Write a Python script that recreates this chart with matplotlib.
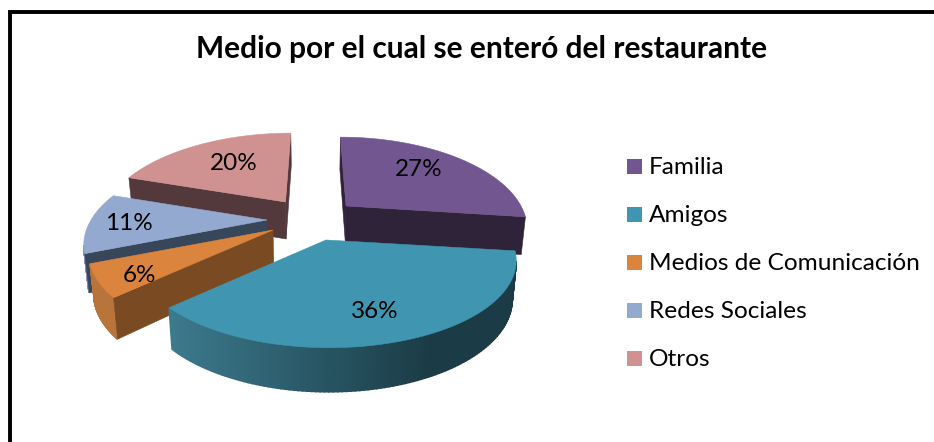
import matplotlib
matplotlib.use("Agg")
import matplotlib.pyplot as plt
import matplotlib.patches as mpatches
import numpy as np

plt.rcParams["font.family"] = ["Lato", "DejaVu Sans"]

TITLE = "Medio por el cual se enteró del restaurante"
CATEGORIES = ["Familia", "Amigos", "Medios de Comunicación", "Redes Sociales", "Otros"]
VALUES = [27, 36, 6, 11, 20]
LABELS = ["27%", "36%", "6%", "11%", "20%"]

COLORS = ["#725690", "#4096B0", "#DA843E", "#93A9CF", "#CF9290"]
WALL_COLORS = ["#2E2339", "#1B3C47", "#7A4B22", "#38465A", "#53393B"]
RIM_COLORS = ["#4A3860", "#1B3C47", "#B8743A", "#7F93B4", "#A87A78"]

# where each slice's apex ended up (pixels), the slices are pulled out by hand
APEX = [(346, 206), (326, 240), (273, 230), (267, 220), (285.5, 202)]
RADIUS_X = [175, 185, 177, 176, 178]
LABEL_OFFSET = [(73, -37), (49, 70), (-134, 44), (-138, 2), (-52, -40)]
DRAW_ORDER = [4, 0, 3, 2, 1]

X0 = 315    # vanishing axis
RY = 84     # ellipse height at apex depth
PERSP = 0.22
HEIGHT = 37
PINCH = 0.98


def persp(theta):
    return 1 / (1 + PERSP * np.cos(theta))


def top_point(apex, rx, theta):
    p = persp(theta)
    return np.array([X0 + (apex[0] - X0 + rx * np.sin(theta)) * p,
                     apex[1] - RY * np.cos(theta) * p])


def bottom_point(pt, p=1.0):
    return np.array([X0 + (pt[0] - X0) * PINCH, pt[1] + HEIGHT * p ** 0.7])


def faces_viewer(a, b, inside):
    # wall below edge a-b shows when the slice interior lies on the other side of "down"
    edge = b - a
    side = edge[0] * (inside[1] - a[1]) - edge[1] * (inside[0] - a[0])
    return edge[0] * side < 0


def lerp_color(c1, c2, t):
    a = np.array(matplotlib.colors.to_rgb(c1))
    b = np.array(matplotlib.colors.to_rgb(c2))
    return tuple(a + (b - a) * t)


fig = plt.figure(figsize=(9.34, 4.42), dpi=100)
ax = fig.add_axes([0, 0, 1, 1])
ax.set_xlim(0, 934)
ax.set_ylim(442, 0)
ax.axis("off")

# chart frame: only top and left sides are in the crop
ax.plot([9.8, 9.8, 934], [442, 12.3, 12.3], color="black", lw=2.8,
        solid_joinstyle="miter", zorder=0)

edges = np.radians(np.concatenate([[0], np.cumsum(VALUES)]) / np.sum(VALUES) * 360)

z = 1
for i in DRAW_ORDER:
    t0, t1 = edges[i], edges[i + 1]
    apex = np.array(APEX[i], dtype=float)
    rx = RADIUS_X[i]
    thetas = np.linspace(t0, t1, 120)
    rim = np.array([top_point(apex, rx, t) for t in thetas])
    inside = top_point(apex, rx, (t0 + t1) / 2) * 0.5 + apex * 0.5

    # rim wall, small quads so Amigos can carry its gradient
    for k in range(len(thetas) - 1):
        a, b = rim[k], rim[k + 1]
        if not faces_viewer(a, b, inside):
            continue
        c = bottom_point(b, persp(thetas[k + 1]))
        d = bottom_point(a, persp(thetas[k]))
        if i == 1:
            frac = np.clip((a[0] - 170) / 260, 0, 1)
            color = lerp_color("#3C7A8D", "#1B3C47", frac)
        else:
            color = RIM_COLORS[i]
        ax.add_patch(mpatches.Polygon([a, b, c, d], fc=color, ec=color, lw=1.2, zorder=z))
    z += 1

    # the two cut walls
    apex_bot = bottom_point(apex)
    for t in (t0, t1):
        rp = top_point(apex, rx, t)
        if not faces_viewer(apex, rp, inside):
            continue
        ax.add_patch(mpatches.Polygon([apex, rp, bottom_point(rp, persp(t)), apex_bot],
                                      fc=WALL_COLORS[i], ec=WALL_COLORS[i], lw=0.4, zorder=z))
    z += 1

    ax.add_patch(mpatches.Polygon(np.vstack([apex, rim]), fc=COLORS[i], ec=COLORS[i],
                                  lw=0.4, zorder=z))
    z += 1

for i, lab in enumerate(LABELS):
    ax.text(APEX[i][0] + LABEL_OFFSET[i][0], APEX[i][1] + LABEL_OFFSET[i][1] + 1, lab,
            fontsize=17.5, ha="center", va="center", color="black", zorder=50)

ax.text(482, 49, TITLE, fontsize=21.5, fontweight="bold", ha="center", va="center", zorder=50)

# legend
for k, (name, col) in enumerate(zip(CATEGORIES, COLORS)):
    y = 166 + k * 48
    ax.add_patch(mpatches.Rectangle((627, y - 7.5), 15, 15, fc=col, ec="none", zorder=50))
    ax.text(649, y + 1, name, fontsize=17.6, ha="left", va="center", zorder=50)

fig.savefig("out.png", dpi=100)
